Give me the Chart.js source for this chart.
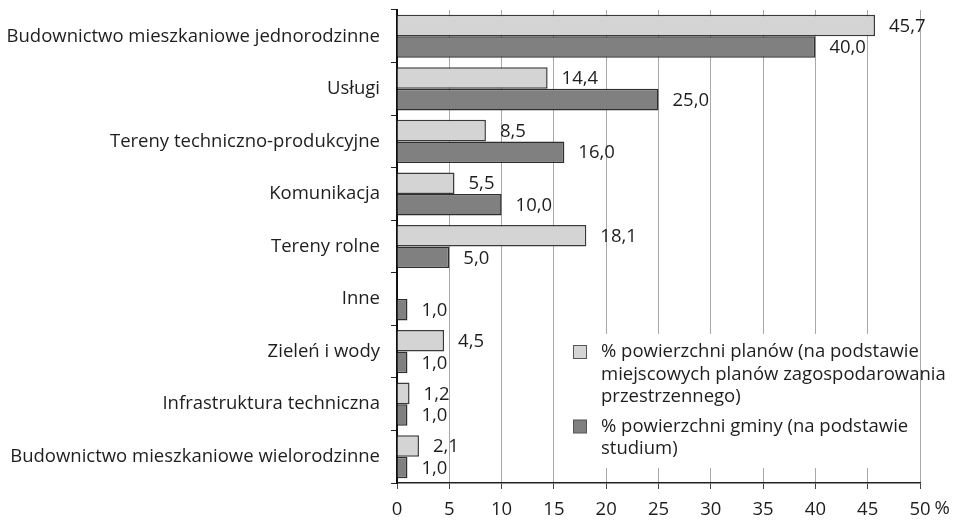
<!DOCTYPE html>
<html lang="pl">
<head>
    <meta charset="UTF-8">
    <title>Struktura powierzchni</title>
    <style>
        html, body { margin: 0; padding: 0; background: #fff; }
        #wrap { width: 958px; height: 522px; }
    </style>
</head>
<body>
    <script src="https://cdn.jsdelivr.net/npm/chart.js@4.4.0/dist/chart.umd.min.js"></script>
    <div id="wrap"><canvas id="chart" width="958" height="522"></canvas></div>

    <script>
        const categories = [
            "Budownictwo mieszkaniowe jednorodzinne",
            "Usługi",
            "Tereny techniczno-produkcyjne",
            "Komunikacja",
            "Tereny rolne",
            "Inne",
            "Zieleń i wody",
            "Infrastruktura techniczna",
            "Budownictwo mieszkaniowe wielorodzinne"
        ];
        const planValues = [45.7, 14.4, 8.5, 5.5, 18.1, null, 4.5, 1.2, 2.1];
        const gminaValues = [40.0, 25.0, 16.0, 10.0, 5.0, 1.0, 1.0, 1.0, 1.0];
        const planLegend = ["% powierzchni planów (na podstawie", "miejscowych planów zagospodarowania", "przestrzennego)"];
        const gminaLegend = ["% powierzchni gminy (na podstawie", "studium)"];
        const axisUnit = "%";

        const FONT = "'Open Sans', sans-serif";
        const TEXT = "#1e1e1e";

        // value labels next to each bar
        const valueLabels = {
            id: "valueLabels",
            afterDatasetsDraw(chart) {
                const ctx = chart.ctx;
                ctx.save();
                ctx.font = "18.5px " + FONT;
                ctx.fillStyle = TEXT;
                ctx.textAlign = "left";
                ctx.textBaseline = "middle";
                chart.data.datasets.forEach((ds, i) => {
                    chart.getDatasetMeta(i).data.forEach((bar, j) => {
                        const v = ds.data[j];
                        if (v === null || v === undefined) return;
                        ctx.fillText(v.toFixed(1).replace(".", ","), bar.x + 14, bar.y + 1);
                    });
                });
                ctx.restore();
            }
        };

        // "%" after the last x tick + legend box inside plot
        const extras = {
            id: "extras",
            afterDraw(chart) {
                const ctx = chart.ctx;
                const xs = chart.scales.x;
                const area = chart.chartArea;
                ctx.save();
                ctx.font = "18.5px " + FONT;
                ctx.fillStyle = TEXT;
                ctx.textBaseline = "middle";
                const lastX = xs.getPixelForValue(xs.max);
                const w = ctx.measureText(String(xs.max)).width;
                ctx.textAlign = "left";
                ctx.fillText(axisUnit, lastX + w / 2 + 4, area.bottom + 26);

                // legend
                const left = area.left + 168;
                const top = area.top + 324;
                ctx.fillStyle = "#fff";
                ctx.fillRect(left, top, 335, 134);
                const entries = [
                    { lines: planLegend, ds: chart.data.datasets[0] },
                    { lines: gminaLegend, ds: chart.data.datasets[1] }
                ];
                let y = top + 18;
                entries.forEach(e => {
                    ctx.fillStyle = e.ds.backgroundColor;
                    ctx.strokeStyle = "#555";
                    ctx.lineWidth = 1;
                    ctx.fillRect(left + 8.5, y - 6.5, 13, 13);
                    ctx.strokeRect(left + 8.5, y - 6.5, 13, 13);
                    ctx.fillStyle = TEXT;
                    e.lines.forEach((ln, k) => {
                        ctx.fillText(ln, left + 36, y + k * 22.5);
                    });
                    y += e.lines.length * 22.5 + 7;
                });
                ctx.restore();
            }
        };

        new Chart(document.getElementById("chart"), {
            type: "bar",
            data: {
                labels: categories,
                datasets: [{
                    label: planLegend.join(" "),
                    data: planValues,
                    backgroundColor: "#d4d4d4",
                    borderColor: "#3a3a3a",
                    borderWidth: 1.5
                }, {
                    label: gminaLegend.join(" "),
                    data: gminaValues,
                    backgroundColor: "#808080",
                    borderColor: "#2e2e2e",
                    borderWidth: 1.5
                }]
            },
            options: {
                indexAxis: "y",
                responsive: false,
                animation: false,
                layout: { padding: { top: 10, right: 38, left: 0, bottom: 0 } },
                datasets: { bar: { categoryPercentage: 0.82, barPercentage: 1.0 } },
                plugins: {
                    legend: { display: false },
                    tooltip: { enabled: false }
                },
                scales: {
                    x: {
                        min: 0,
                        max: 50,
                        ticks: {
                            stepSize: 5,
                            color: TEXT,
                            font: { family: FONT, size: 18.5 },
                            padding: 10
                        },
                        grid: {
                            color: "#a8a8a8",
                            lineWidth: 1,
                            tickLength: 6,
                            tickColor: "#444"
                        },
                        border: { color: "#222", width: 1.5 },
                        afterFit(s) { s.height = 39; }
                    },
                    y: {
                        ticks: {
                            color: TEXT,
                            font: { family: FONT, size: 18.5 },
                            padding: 11
                        },
                        grid: {
                            offset: true,
                            drawOnChartArea: false,
                            tickLength: 6,
                            tickColor: "#222"
                        },
                        border: { color: "#111", width: 2 },
                        afterFit(s) {
                            s.width = 397;
                            s.paddingTop = 0;
                            s.paddingBottom = 0;
                        }
                    }
                }
            },
            plugins: [valueLabels, extras]
        });
    </script>
</body>
</html>
